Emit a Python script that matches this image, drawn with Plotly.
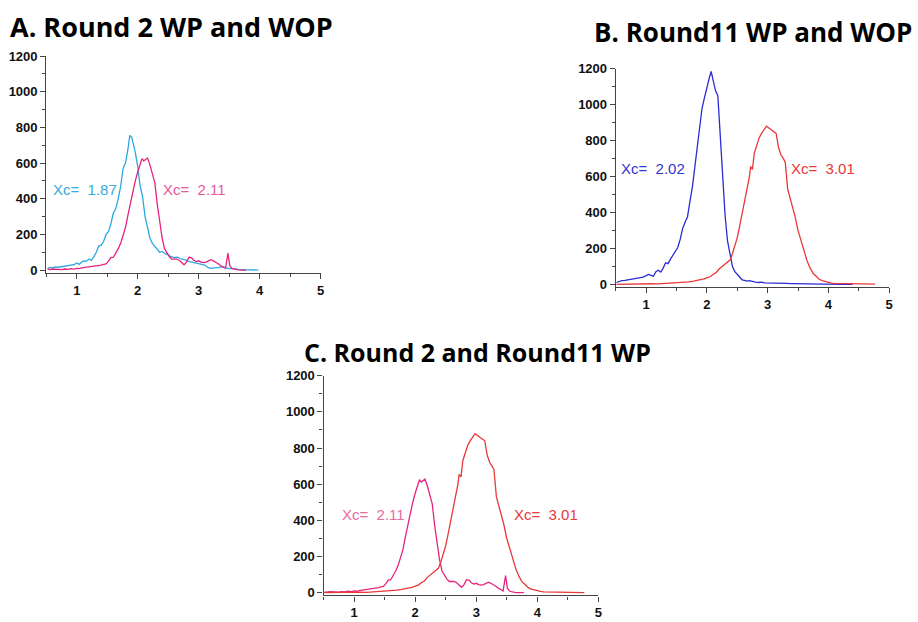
import plotly.graph_objects as go

W, H = 918, 622

# Round 2 WOP (light blue)
x_r2_wop = [0.52, 0.56, 0.60, 0.65, 0.70, 0.75, 0.80, 0.85, 0.90, 0.95, 1.00, 1.04, 1.08, 1.12, 1.16, 1.20, 1.24, 1.28,
            1.32, 1.36, 1.40, 1.44, 1.48, 1.52, 1.56, 1.60, 1.64, 1.68, 1.72, 1.76, 1.80, 1.84, 1.87, 1.90, 1.93, 1.96,
            2.00, 2.04, 2.08, 2.12, 2.16, 2.20, 2.24, 2.28, 2.32, 2.36, 2.40, 2.45, 2.50, 2.55, 2.60, 2.65, 2.70, 2.75,
            2.80, 2.85, 2.90, 2.95, 3.00, 3.05, 3.10, 3.15, 3.20, 3.25, 3.30, 3.35, 3.40, 3.45, 3.50, 3.55, 3.60, 3.65,
            3.70, 3.75, 3.80, 3.85, 3.90, 3.95, 3.98]
y_r2_wop = [10, 15, 12, 18, 16, 20, 22, 25, 28, 30, 40, 32, 45, 52, 50, 62, 55, 75,
            100, 135, 140, 160, 200, 215, 260, 320, 345, 400, 470, 570, 600, 680, 755, 745, 700, 660,
            580, 470, 410, 300, 240, 180, 150, 135, 120, 100, 105, 92, 85, 75, 70, 72, 65, 62,
            55, 48, 45, 38, 35, 32, 28, 15, 10, 12, 14, 16, 18, 12, 8, 10, 6, 4,
            3, 2, 2, 1, 1, 0, 0]

# Round 2 WP (pink)
x_r2_wp = [0.52, 0.56, 0.60, 0.65, 0.70, 0.75, 0.80, 0.85, 0.90, 0.95, 1.00, 1.04, 1.08, 1.12, 1.16, 1.20, 1.24, 1.28,
           1.32, 1.36, 1.40, 1.44, 1.48, 1.52, 1.56, 1.60, 1.64, 1.68, 1.72, 1.76, 1.80, 1.84, 1.88, 1.92, 1.96, 2.00,
           2.04, 2.07, 2.10, 2.13, 2.16, 2.20, 2.24, 2.28, 2.32, 2.36, 2.40, 2.44, 2.48, 2.52, 2.56, 2.60, 2.64, 2.68,
           2.72, 2.76, 2.80, 2.84, 2.88, 2.92, 2.96, 3.00, 3.04, 3.08, 3.12, 3.16, 3.20, 3.24, 3.28, 3.32, 3.36, 3.40,
           3.44, 3.48, 3.51, 3.55, 3.60, 3.65, 3.70, 3.78]
y_r2_wp = [5, 3, 6, 4, 5, 3, 6, 4, 8, 6, 10, 8, 12, 14, 15, 18, 16, 20,
           22, 25, 28, 32, 35, 50, 70, 72, 95, 120, 150, 190, 240, 310, 380, 440, 500, 550,
           600, 625, 612, 620, 628, 590, 540, 490, 370, 270, 180, 120, 95, 75, 62, 60, 62, 55,
           45, 30, 45, 72, 70, 55, 48, 52, 45, 42, 45, 52, 58, 52, 45, 36, 25, 15,
           10, 95, 25, 8, 3, 1, 0, 0]

# Round 11 WOP (blue)
x_r11_wop = [0.51, 0.55, 0.60, 0.65, 0.70, 0.75, 0.80, 0.85, 0.90, 0.95, 1.00, 1.04, 1.08, 1.12, 1.16, 1.20, 1.24, 1.28,
             1.32, 1.36, 1.40, 1.44, 1.48, 1.52, 1.56, 1.60, 1.64, 1.68, 1.72, 1.76, 1.80, 1.84, 1.88, 1.92, 1.96, 2.00,
             2.04, 2.07, 2.10, 2.14, 2.18, 2.22, 2.26, 2.30, 2.34, 2.38, 2.42, 2.46, 2.50, 2.54, 2.58, 2.62, 2.66, 2.70,
             2.75, 2.80, 2.85, 2.90, 2.95, 3.00, 3.05, 3.10, 3.15, 3.20, 3.25, 3.30, 3.40, 3.50, 3.60, 3.70, 3.80, 3.90,
             4.00, 4.10, 4.20, 4.30, 4.40]
y_r11_wop = [10, 15, 20, 22, 25, 28, 32, 35, 37, 40, 48, 55, 50, 45, 70, 78, 68, 90,
             120, 115, 140, 160, 180, 205, 250, 310, 345, 375, 460, 540, 650, 760, 870, 980, 1040, 1100,
             1150, 1185, 1140, 1080, 1050, 820, 560, 380, 240, 160, 100, 70, 55, 40, 25, 22, 18, 20,
             14, 12, 10, 12, 8, 7, 6, 8, 5, 7, 4, 5, 4, 3, 5, 3, 2, 2,
             1, 1, 0, 0, 0]

# Round 11 WP (red)
x_r11_wp = [0.51, 0.60, 0.70, 0.80, 0.90, 1.00, 1.10, 1.20, 1.30, 1.40, 1.50, 1.60, 1.70, 1.78, 1.85, 1.90, 1.95, 2.00,
            2.05, 2.10, 2.15, 2.20, 2.25, 2.30, 2.35, 2.38, 2.42, 2.46, 2.50, 2.54, 2.58, 2.62, 2.66, 2.70, 2.72, 2.75,
            2.78, 2.82, 2.86, 2.90, 2.94, 2.98, 3.02, 3.06, 3.10, 3.14, 3.18, 3.22, 3.26, 3.29, 3.33, 3.37, 3.41, 3.45,
            3.50, 3.55, 3.60, 3.65, 3.70, 3.75, 3.80, 3.85, 3.90, 3.95, 4.00, 4.05, 4.10, 4.20, 4.30, 4.40, 4.50, 4.60,
            4.70, 4.77]
y_r11_wp = [0, 1, 0, 2, 1, 2, 3, 2, 4, 6, 8, 10, 14, 18, 22, 28, 30, 36,
            42, 55, 65, 85, 100, 112, 125, 135, 170, 215, 260, 325, 390, 450, 520, 600, 655, 640,
            730, 780, 815, 840, 860, 880, 870, 860, 850, 840, 760, 720, 700, 680, 530, 480, 430, 380,
            300, 240, 180, 130, 90, 60, 45, 28, 20, 15, 10, 7, 5, 4, 3, 2, 2, 1,
            1, 1]

y_ticks = [0, 200, 400, 600, 800, 1000, 1200]
x_ticks = [1, 2, 3, 4, 5]

titles = ["A. Round 2 WP and WOP", "B. Round11 WP and WOP", "C. Round 2 and Round11 WP"]

C_LBLUE = "#2BA9E1"
C_PINK = "#E6237F"
C_BLUE = "#2B2BD4"
C_RED = "#E8383A"
LW = 1.3

fig = go.Figure()
fig.add_trace(go.Scatter(x=x_r2_wop, y=y_r2_wop, mode="lines", line=dict(color=C_LBLUE, width=LW), xaxis="x", yaxis="y"))
fig.add_trace(go.Scatter(x=x_r2_wp, y=y_r2_wp, mode="lines", line=dict(color=C_PINK, width=LW), xaxis="x", yaxis="y"))
fig.add_trace(go.Scatter(x=x_r11_wop, y=y_r11_wop, mode="lines", line=dict(color=C_BLUE, width=LW), xaxis="x2", yaxis="y2"))
fig.add_trace(go.Scatter(x=x_r11_wp, y=y_r11_wp, mode="lines", line=dict(color=C_RED, width=LW), xaxis="x2", yaxis="y2"))
fig.add_trace(go.Scatter(x=x_r2_wp, y=y_r2_wp, mode="lines", line=dict(color=C_PINK, width=LW), xaxis="x3", yaxis="y3"))
fig.add_trace(go.Scatter(x=x_r11_wp, y=y_r11_wp, mode="lines", line=dict(color=C_RED, width=LW), xaxis="x3", yaxis="y3"))

tickfont = dict(family="Liberation Sans, Arial", size=13, color="#111", weight="bold")


def xax(left, right, anchor):
    return dict(domain=[left / W, right / W], range=[0.5, 5], anchor=anchor, showline=True, linecolor="#444",
                linewidth=1.3, ticks="outside", ticklen=5, tickwidth=1.2, tickcolor="#444", tickvals=x_ticks,
                showgrid=False, zeroline=False, tickfont=tickfont,
                minor=dict(ticks="outside", ticklen=3, tickwidth=1, tickcolor="#444", dtick=0.5, showgrid=False))


def yax(top, bottom, anchor):
    return dict(domain=[1 - bottom / H, 1 - top / H], range=[-15, 1200], anchor=anchor, showline=True,
                linecolor="#444", linewidth=1.3, ticks="outside", ticklen=5, tickwidth=1.2, tickcolor="#444",
                tickvals=y_ticks, showgrid=False, zeroline=False, tickfont=tickfont,
                minor=dict(ticks="outside", ticklen=3, tickwidth=1, tickcolor="#444", dtick=100, showgrid=False))


annotations = []
title_pos = [(8, 20, 27), (595, 26, 26), (303, 352, 25)]
for t, (px, py, fs) in zip(titles, title_pos):
    annotations.append(dict(text=t, x=px / W, y=1 - py / H, xref="paper", yref="paper", xanchor="left",
                            yanchor="middle", showarrow=False,
                            font=dict(family="Open Sans", size=fs, color="#000", weight="bold")))

labels = [("Xc=\u00a0 1.87", 52, 186, "#35ABE2"), ("Xc=\u00a0 2.11", 163, 186, "#E8559B"),
          ("Xc=\u00a0 2.02", 623, 165, "#3535D2"), ("Xc=\u00a0 3.01", 793, 165, "#E8383A"),
          ("Xc=\u00a0 2.11", 342, 517, "#EA6AA4"), ("Xc=\u00a0 3.01", 515, 517, "#E8383A")]
for t, px, py, c in labels:
    annotations.append(dict(text=t, x=px / W, y=1 - py / H, xref="paper", yref="paper", xanchor="left",
                            yanchor="middle", showarrow=False, xshift=-1,
                            font=dict(family="Liberation Sans, Arial", size=15, color=c)))

fig.update_layout(
    width=W, height=H, margin=dict(l=0, r=0, t=0, b=0), paper_bgcolor="white", plot_bgcolor="white",
    showlegend=False,
    xaxis=xax(46.5, 322, "y"), yaxis=yax(50, 271, "x"),
    xaxis2=xax(618.5, 893, "y2"), yaxis2=yax(63, 285.5, "x2"),
    xaxis3=xax(325, 601, "y3"), yaxis3=yax(376, 600, "x3"),
    annotations=annotations,
)

fig.write_html("out.html", config={"displayModeBar": False},
               post_script="document.body.style.margin='0';document.body.style.overflow='hidden';")
